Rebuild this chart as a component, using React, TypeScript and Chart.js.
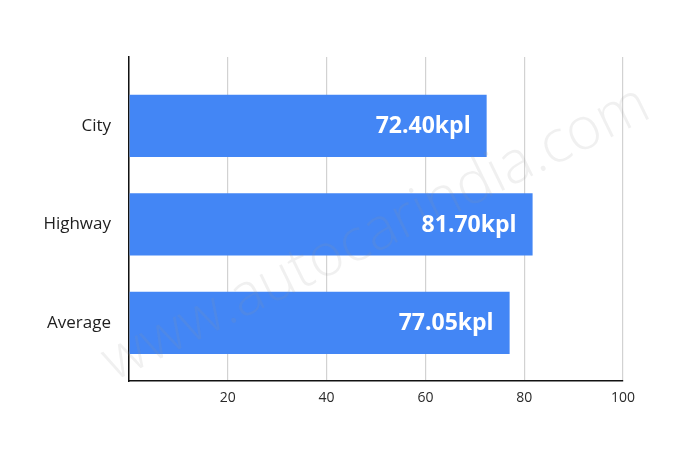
import React, { useEffect, useRef } from 'react';
import { Chart, registerables } from 'chart.js';

Chart.register(...registerables);

const categories = ['City', 'Highway', 'Average'];
const mileage = [72.4, 81.7, 77.05];
const unit = 'kpl';
const xTickValues = [20, 40, 60, 80, 100];
const watermark = 'www.autocarindia.com';

const barLabelPlugin = {
  id: 'barLabels',
  afterDatasetsDraw(chart: any) {
    const ctx = chart.ctx;
    const meta = chart.getDatasetMeta(0);
    ctx.save();
    ctx.fillStyle = '#ffffff';
    ctx.font = 'bold 23px "Open Sans"';
    ctx.textAlign = 'right';
    ctx.textBaseline = 'middle';
    meta.data.forEach((bar: any, i: number) => {
      ctx.fillText(mileage[i].toFixed(2) + unit, bar.x - 16, bar.y + 1);
    });
    ctx.restore();
  },
};

const watermarkPlugin = {
  id: 'watermark',
  afterDatasetsDraw(chart: any) {
    const ctx = chart.ctx;
    ctx.save();
    ctx.translate(376, 234);
    ctx.rotate(-Math.atan2(275, 560));
    ctx.fillStyle = 'rgba(150,150,150,0.14)';
    ctx.font = '300 59px "Open Sans"';
    ctx.textAlign = 'center';
    ctx.textBaseline = 'middle';
    ctx.fillText(watermark, 0, 0);
    ctx.restore();
  },
};

export default function App() {
  const ref = useRef<HTMLCanvasElement>(null);
  useEffect(() => {
    const chart = new Chart(ref.current!, {
      type: 'bar',
      data: {
        datasets: [
          {
            data: mileage.map((v, i) => ({ x: v, y: i })),
            backgroundColor: '#4386F5',
            borderWidth: 0,
            categoryPercentage: 0.8,
            barPercentage: 0.79,
          },
        ],
      },
      options: {
        indexAxis: 'y',
        responsive: false,
        animation: false,
        layout: { padding: { left: 0, right: 77, top: 57, bottom: 0 } },
        plugins: { legend: { display: false }, tooltip: { enabled: false } },
        scales: {
          x: {
            type: 'linear',
            min: 0,
            max: 100,
            afterBuildTicks: (scale: any) => {
              scale.ticks = [0, ...xTickValues].map((v) => ({ value: v }));
            },
            afterFit: (scale: any) => {
              scale.height = 83;
            },
            ticks: {
              callback: (v: any) => (v === 0 ? '' : String(v)),
              color: '#2a2a2a',
              font: { family: '"Open Sans"', size: 14 },
              padding: 9,
            },
            grid: { color: '#d2d2d2', lineWidth: 1.2, drawTicks: false },
            border: { display: true, color: '#111111', width: 1.5 },
          },
          y: {
            type: 'linear',
            reverse: true,
            offset: false,
            bounds: 'data',
            min: -0.7,
            max: 2.59,
            afterBuildTicks: (scale: any) => {
              scale.ticks = categories.map((_, i) => ({ value: i }));
            },
            afterFit: (scale: any) => {
              scale.width = 129;
            },
            ticks: {
              callback: (v: any) => categories[v] ?? '',
              color: '#1e1e1e',
              font: { family: '"Open Sans"', size: 17 },
              padding: 18,
            },
            grid: { display: false, drawTicks: false, offset: false },
            border: { display: true, color: '#111111', width: 1.5 },
          },
        },
      },
      plugins: [watermarkPlugin, barLabelPlugin],
    });
    return () => chart.destroy();
  }, []);
  return (
    <div style={{ position: 'fixed', left: 0, top: 0, width: 700, height: 464, background: '#fff' }}>
      <canvas ref={ref} width={700} height={464} />
    </div>
  );
}
